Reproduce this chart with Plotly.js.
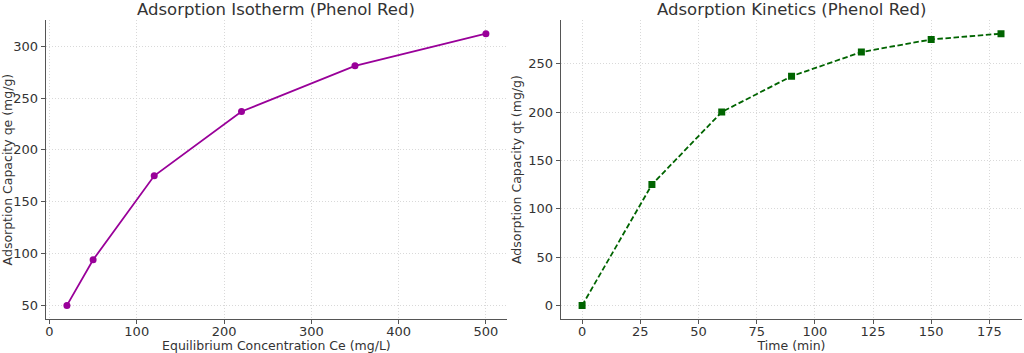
<!DOCTYPE html>
<html>
<head>
<meta charset="utf-8">
<script src="https://cdn.plot.ly/plotly-3.0.1.min.js"></script>
<style>html,body{margin:0;padding:0;background:#fff;}#chart{width:1024px;height:353px;}</style>
</head>
<body>
<div id="chart"></div>
<script>
const isoCe = [20, 50, 120, 220, 350, 500];
const isoQe = [50, 94, 175, 237, 281, 312];
const kinTime = [0, 30, 60, 90, 120, 150, 180];
const kinQt = [0, 125, 200, 237, 262, 275, 281];
const isoTicks = [0, 100, 200, 300, 400, 500];
const isoYTicks = [50, 100, 150, 200, 250, 300];
const kinTicks = [0, 25, 50, 75, 100, 125, 150, 175];
const kinYTicks = [0, 50, 100, 150, 200, 250];

const FAM = 'DejaVu Sans, sans-serif';
const font = {family: FAM, size: 12.5, color: '#333'};
const axBase = {
  showline: true, linecolor: '#555', linewidth: 1.4, mirror: false,
  ticks: 'outside', ticklen: 4, tickcolor: '#555', tickwidth: 1,
  showgrid: true, gridcolor: '#d9d9d9', griddash: '1px,2px', gridwidth: 1,
  zeroline: false, tickfont: {family: FAM, size: 13, color: '#333'},
  tickmode: 'array'
};

const traces = [
  {x: isoCe, y: isoQe, type: 'scatter', mode: 'lines+markers', xaxis: 'x', yaxis: 'y',
   line: {color: '#990099', width: 1.8}, marker: {color: '#990099', size: 7, symbol: 'circle'}},
  {x: kinTime, y: kinQt, type: 'scatter', mode: 'lines+markers', xaxis: 'x2', yaxis: 'y2',
   line: {color: '#006400', width: 1.8, dash: '5.5px,2.6px'}, marker: {color: '#006400', size: 7, symbol: 'square'}}
];

const xTick = {ticklabelstandoff: -4};
const layout = {
  width: 1024, height: 353, margin: {l: 0, r: 0, t: 0, b: 0},
  paper_bgcolor: '#fff', plot_bgcolor: '#fff', showlegend: false, font: font,
  xaxis: Object.assign({}, axBase, xTick, {domain: [0.0449, 0.495], range: [-4, 524], tickvals: isoTicks,
    title: {text: 'Equilibrium Concentration Ce (mg/L)', font: font, standoff: 2}}),
  yaxis: Object.assign({}, axBase, {domain: [0.0963, 0.943], range: [36.9, 325.1], tickvals: isoYTicks,
    title: {text: 'Adsorption Capacity qe (mg/g)', font: font, standoff: 4}}),
  xaxis2: Object.assign({}, axBase, xTick, {domain: [0.548, 0.998], anchor: 'y2', range: [-9, 189], tickvals: kinTicks,
    title: {text: 'Time (min)', font: font, standoff: 2}}),
  yaxis2: Object.assign({}, axBase, {domain: [0.0963, 0.943], anchor: 'x2', range: [-14, 295], tickvals: kinYTicks,
    title: {text: 'Adsorption Capacity qt (mg/g)', font: font, standoff: 4}}),
  annotations: [
    {text: 'Adsorption Isotherm (Phenol Red)', xref: 'paper', yref: 'paper', x: 0.27, y: 0.972,
     xanchor: 'center', yanchor: 'middle', showarrow: false, font: {family: FAM, size: 16.5, color: '#333'}},
    {text: 'Adsorption Kinetics (Phenol Red)', xref: 'paper', yref: 'paper', x: 0.773, y: 0.972,
     xanchor: 'center', yanchor: 'middle', showarrow: false, font: {family: FAM, size: 16.5, color: '#333'}}
  ]
};

Plotly.newPlot('chart', traces, layout, {displayModeBar: false, staticPlot: true});
</script>
</body>
</html>
